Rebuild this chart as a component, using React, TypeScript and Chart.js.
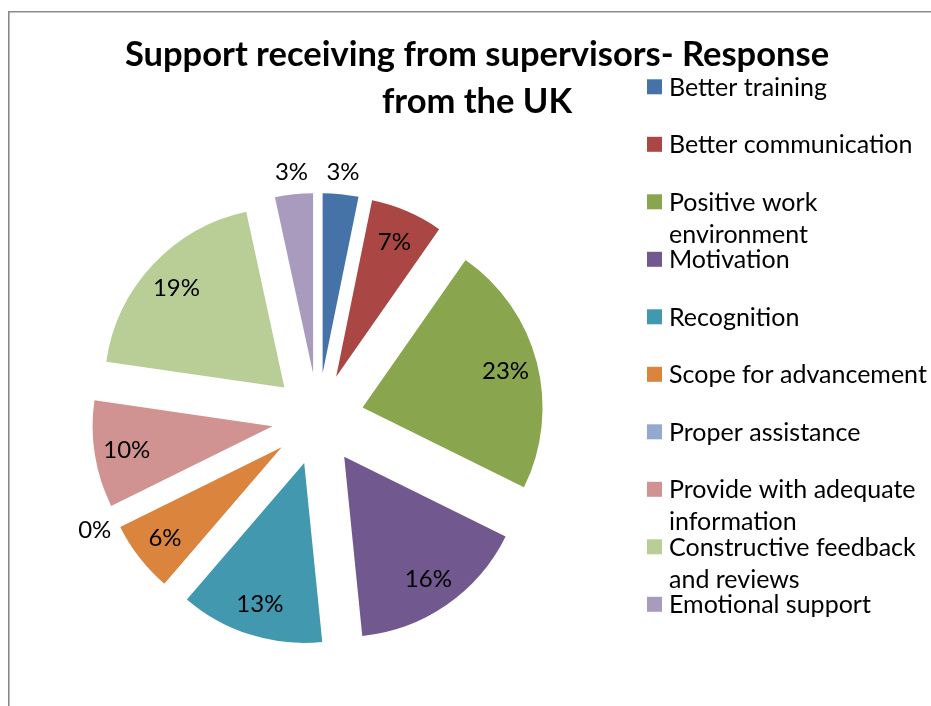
import React, { useEffect, useRef } from 'react';
import { Chart, registerables } from 'chart.js';

Chart.register(...registerables);

// ---- data ----
const titleLines = ['Support receiving from supervisors- Response', 'from the UK'];
const categories = [
  'Better training',
  'Better communication',
  'Positive work environment',
  'Motivation',
  'Recognition',
  'Scope for advancement',
  'Proper assistance',
  'Provide with adequate information',
  'Constructive feedback and reviews',
  'Emotional support',
];
const legendLines = [
  ['Better training'],
  ['Better communication'],
  ['Positive work', 'environment'],
  ['Motivation'],
  ['Recognition'],
  ['Scope for advancement'],
  ['Proper assistance'],
  ['Provide with adequate', 'information'],
  ['Constructive feedback', 'and reviews'],
  ['Emotional support'],
];
// shares (%); labels show them rounded
const shares = [3.2, 6.5, 22.6, 16.1, 12.9, 6.4, 0, 9.6, 19.3, 3.4];
const sliceColors = [
  '#4572A7', '#AA4643', '#89A54E', '#71588F', '#4198AF',
  '#DB843D', '#93A9CF', '#D19392', '#B9CD96', '#A99BBD',
];

// ---- layout / style ----
const W = 931;
const H = 706;
const FONT = 'Lato, "Open Sans", sans-serif';
const EXPLODE = 46;
const RADIUS = 180;
const LABEL_SIZE = 24;
const LEGEND_SIZE = 25;
const TITLE_SIZE = 34.5;

const explodePlugin = {
  id: 'explodeSlices',
  beforeDatasetDraw(chart: any, args: any) {
    const ctx = chart.ctx;
    args.meta.data.forEach((arc: any) => {
      const { startAngle, endAngle } = arc.getProps(['startAngle', 'endAngle'], true);
      const mid = (startAngle + endAngle) / 2;
      ctx.save();
      ctx.translate(Math.cos(mid) * EXPLODE, Math.sin(mid) * EXPLODE);
      arc.draw(ctx, chart.chartArea);
      ctx.restore();
    });
    return false;
  },
};

const decorPlugin = {
  id: 'decor',
  afterDraw(chart: any) {
    const ctx = chart.ctx;
    const meta = chart.getDatasetMeta(0);
    const data = chart.data.datasets[0].data as number[];
    const total = data.reduce((a, b) => a + b, 0);

    // frame
    ctx.save();
    ctx.strokeStyle = '#8a8a8a';
    ctx.lineWidth = 1.6;
    ctx.beginPath();
    ctx.moveTo(8.8, H);
    ctx.lineTo(8.8, 11.8);
    ctx.lineTo(W, 11.8);
    ctx.stroke();
    ctx.restore();

    // data labels
    ctx.save();
    ctx.fillStyle = '#000';
    ctx.font = `${LABEL_SIZE}px ${FONT}`;
    ctx.textAlign = 'center';
    ctx.textBaseline = 'alphabetic';
    meta.data.forEach((arc: any, i: number) => {
      const { x, y, startAngle, endAngle, outerRadius } = arc.getProps(
        ['x', 'y', 'startAngle', 'endAngle', 'outerRadius'], true);
      const mid = (startAngle + endAngle) / 2;
      const pct = Math.round((data[i] / total) * 100 + 1e-9);
      const r = pct < 5 ? outerRadius + 23 : outerRadius * 0.82;
      const lx = x + Math.cos(mid) * (EXPLODE + r);
      const ly = y + Math.sin(mid) * (EXPLODE + r);
      ctx.fillText(`${pct}%`, lx, ly + LABEL_SIZE * 0.36);
    });
    ctx.restore();

    // title
    ctx.save();
    ctx.fillStyle = '#000';
    ctx.font = `bold ${TITLE_SIZE}px ${FONT}`;
    ctx.textAlign = 'center';
    ctx.textBaseline = 'alphabetic';
    ctx.fillText(titleLines[0], 477, 66);
    ctx.fillText(titleLines[1], 477, 113);
    ctx.restore();

    // legend
    ctx.save();
    ctx.font = `${LEGEND_SIZE}px ${FONT}`;
    ctx.textAlign = 'left';
    ctx.textBaseline = 'alphabetic';
    legendLines.forEach((lines, i) => {
      const cy = 86.8 + i * 57.5;
      ctx.fillStyle = sliceColors[i];
      ctx.fillRect(647, cy - 7.5, 15, 15);
      ctx.fillStyle = '#000';
      lines.forEach((t, j) => {
        ctx.fillText(t, 669, cy + LEGEND_SIZE * 0.36 + j * 32);
      });
    });
    ctx.restore();
  },
};

export default function App() {
  const ref = useRef<HTMLCanvasElement | null>(null);

  useEffect(() => {
    if (!ref.current) return;
    const chart = new Chart(ref.current, {
      type: 'pie',
      data: {
        labels: categories,
        datasets: [
          {
            data: shares,
            backgroundColor: sliceColors,
            borderWidth: 0,
          },
        ],
      },
      options: {
        responsive: false,
        animation: false,
        devicePixelRatio: 1,
        events: [],
        radius: RADIUS,
        layout: { padding: { left: 118, right: 413, top: 219, bottom: 87 } },
        plugins: {
          legend: { display: false },
          title: { display: false },
          tooltip: { enabled: false },
        },
      } as any,
      plugins: [explodePlugin, decorPlugin],
    });
    return () => chart.destroy();
  }, []);

  return (
    <div style={{ position: 'absolute', left: 0, top: 0, width: W, height: H, background: '#fff' }}>
      <canvas ref={ref} width={W} height={H} style={{ display: 'block' }} />
    </div>
  );
}
